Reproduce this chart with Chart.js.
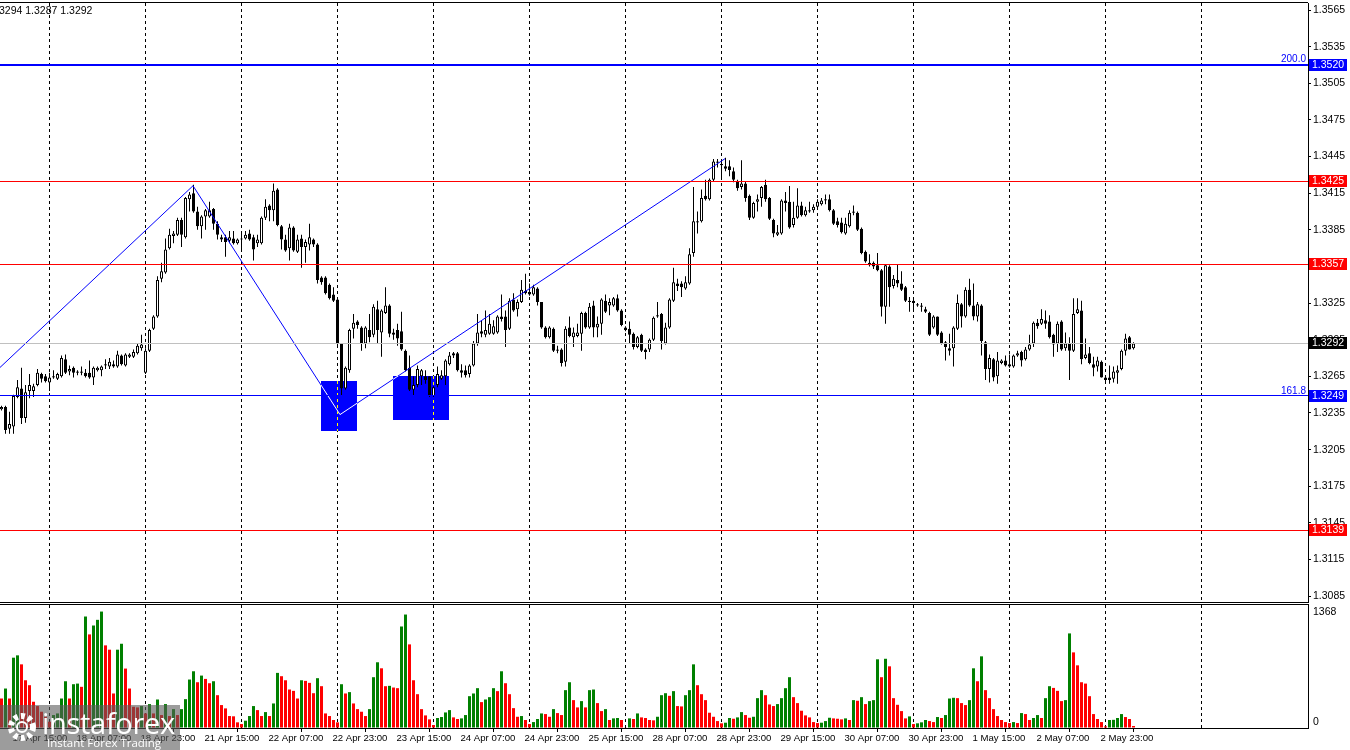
<!DOCTYPE html>
<html>
<head>
<meta charset="utf-8">
<title>GBPUSD H1</title>
<script src="https://cdn.jsdelivr.net/npm/chart.js@4.4.1/dist/chart.umd.min.js"></script>
<style>
  html, body { margin: 0; padding: 0; background: #fff; }
  #wrap { position: relative; width: 1350px; height: 750px; overflow: hidden; background: #fff;
          font-family: "Liberation Sans", Arial, sans-serif; }
  #priceChart { position: absolute; left: 0; top: 0; }
  #volChart { position: absolute; left: 0; top: 603px; }
  #hdr { position: absolute; left: -1px; top: 4px; font-size: 10.5px; line-height: 12px; color: #000; white-space: nowrap; }
  #logo { position: absolute; left: 0; top: 705px; width: 180px; height: 45px; background: rgba(90,90,90,0.6); color: #fff; }
  #logo svg { position: absolute; left: 5px; top: 5px; }
  #logo .big { position: absolute; left: 42px; top: 1px; font-family: "Open Sans", sans-serif; font-size: 29px; line-height: 34px; letter-spacing: -0.3px; }
  #logo .small { position: absolute; left: 47px; top: 31px; font-family: "Open Sans", sans-serif; font-size: 11.5px; line-height: 13px; }
</style>
</head>
<body>
<div id="wrap">
  <canvas id="priceChart" width="1350" height="604"></canvas>
  <canvas id="volChart" width="1350" height="147"></canvas>
  <div id="hdr">3294 1.3287 1.3292</div>
  <div id="logo">
    <svg width="34" height="34" viewBox="0 0 34 34">
      <circle cx="17" cy="17" r="11" fill="none" stroke="#fff" stroke-width="6" stroke-dasharray="4 3.2"/>
      <circle cx="17" cy="17" r="5" fill="none" stroke="#fff" stroke-width="2"/>
    </svg>
    <div class="big">instaforex</div>
    <div class="small">Instant Forex Trading</div>
  </div>
</div>
<script>
/* ---------- DATA (H1 bars, 17 Apr 12:00 .. 5 May 07:00) ---------- */
const opens = [
  1.3238,1.3240,1.3222,1.3224,1.3248,1.3255,1.3231,1.3253,1.3253,1.3258,
  1.3267,1.3265,1.3260,1.3264,1.3263,1.3265,1.3279,1.3269,1.3272,1.3268,
  1.3269,1.3268,1.3268,1.3264,1.3270,1.3270,1.3274,1.3273,1.3275,1.3273,
  1.3282,1.3274,1.3281,1.3281,1.3284,1.3288,1.3268,1.3286,1.3304,1.3314,
  1.3345,1.3350,1.3370,1.3380,1.3381,1.3393,1.3379,1.3410,1.3415,1.3400,
  1.3388,1.3396,1.3396,1.3402,1.3390,1.3379,1.3379,1.3376,1.3378,1.3374,
  1.3377,1.3378,1.3382,1.3379,1.3374,1.3374,1.3395,1.3405,1.3401,1.3418,
  1.3388,1.3377,1.3370,1.3387,1.3367,1.3378,1.3371,1.3373,1.3377,1.3373,
  1.3346,1.3346,1.3340,1.3332,1.3328,1.3292,1.3255,1.3270,1.3304,1.3310,
  1.3305,1.3292,1.3303,1.3299,1.3320,1.3301,1.3317,1.3323,1.3301,1.3303,
  1.3302,1.3286,1.3272,1.3254,1.3258,1.3265,1.3265,1.3265,1.3249,1.3258,
  1.3263,1.3265,1.3275,1.3284,1.3284,1.3270,1.3270,1.3267,1.3274,1.3292,
  1.3302,1.3299,1.3300,1.3300,1.3301,1.3314,1.3314,1.3304,1.3328,1.3320,
  1.3326,1.3335,1.3334,1.3332,1.3337,1.3326,1.3305,1.3297,1.3304,1.3287,
  1.3287,1.3277,1.3305,1.3297,1.3298,1.3300,1.3317,1.3305,1.3323,1.3305,
  1.3308,1.3327,1.3323,1.3323,1.3329,1.3319,1.3305,1.3304,1.3300,1.3289,
  1.3299,1.3287,1.3287,1.3295,1.3315,1.3316,1.3292,1.3305,1.3327,1.3341,
  1.3341,1.3337,1.3341,1.3366,1.3391,1.3392,1.3413,1.3410,1.3426,1.3441,
  1.3439,1.3437,1.3437,1.3433,1.3425,1.3420,1.3423,1.3413,1.3395,1.3408,
  1.3411,1.3422,1.3411,1.3393,1.3381,1.3382,1.3409,1.3408,1.3389,1.3395,
  1.3405,1.3397,1.3401,1.3401,1.3404,1.3406,1.3409,1.3410,1.3401,1.3392,
  1.3391,1.3382,1.3388,1.3399,1.3399,1.3386,1.3367,1.3358,1.3358,1.3356,
  1.3352,1.3322,1.3355,1.3339,1.3344,1.3341,1.3338,1.3327,1.3327,1.3324,
  1.3323,1.3320,1.3317,1.3305,1.3314,1.3301,1.3293,1.3288,1.3288,1.3304,
  1.3324,1.3314,1.3336,1.3323,1.3314,1.3323,1.3293,1.3271,1.3279,1.3265,
  1.3276,1.3278,1.3275,1.3273,1.3282,1.3285,1.3279,1.3287,1.3292,1.3309,
  1.3308,1.3311,1.3310,1.3299,1.3292,1.3310,1.3288,1.3292,1.3286,1.3317,
  1.3319,1.3280,1.3284,1.3275,1.3273,1.3277,1.3264,1.3264,1.3263,1.3268,
  1.3271,1.3286,1.3297,1.3288
];
const highs = [
  1.3241,1.3241,1.3236,1.3250,1.3262,1.3272,1.3258,1.3267,1.3259,1.3271,
  1.3268,1.3267,1.3268,1.3270,1.3268,1.3282,1.3283,1.3274,1.3273,1.3270,
  1.3273,1.3271,1.3278,1.3273,1.3273,1.3274,1.3279,1.3280,1.3278,1.3286,
  1.3283,1.3284,1.3284,1.3287,1.3292,1.3299,1.3288,1.3304,1.3315,1.3347,
  1.3358,1.3378,1.3386,1.3384,1.3395,1.3395,1.3412,1.3416,1.3422,1.3404,
  1.3397,1.3402,1.3408,1.3403,1.3392,1.3381,1.3381,1.3384,1.3384,1.3378,
  1.3384,1.3384,1.3385,1.3381,1.3381,1.3396,1.3410,1.3406,1.3423,1.3419,
  1.3389,1.3381,1.3390,1.3388,1.3381,1.3381,1.3377,1.3390,1.3378,1.3374,
  1.3347,1.3347,1.3341,1.3338,1.3329,1.3292,1.3273,1.3304,1.3316,1.3311,
  1.3306,1.3306,1.3316,1.3324,1.3327,1.3320,1.3338,1.3324,1.3304,1.3308,
  1.3318,1.3287,1.3282,1.3265,1.3274,1.3271,1.3270,1.3265,1.3257,1.3273,
  1.3270,1.3279,1.3285,1.3285,1.3285,1.3275,1.3274,1.3275,1.3294,1.3316,
  1.3311,1.3319,1.3316,1.3311,1.3315,1.3332,1.3319,1.3329,1.3333,1.3328,
  1.3344,1.3349,1.3341,1.3340,1.3338,1.3326,1.3306,1.3306,1.3305,1.3290,
  1.3288,1.3306,1.3314,1.3305,1.3308,1.3318,1.3318,1.3325,1.3327,1.3314,
  1.3329,1.3332,1.3329,1.3330,1.3332,1.3320,1.3306,1.3310,1.3301,1.3298,
  1.3300,1.3288,1.3296,1.3314,1.3326,1.3317,1.3309,1.3329,1.3354,1.3345,
  1.3343,1.3347,1.3370,1.3420,1.3400,1.3418,1.3426,1.3427,1.3443,1.3443,
  1.3441,1.3444,1.3442,1.3436,1.3426,1.3442,1.3425,1.3414,1.3408,1.3414,
  1.3421,1.3426,1.3412,1.3394,1.3389,1.3410,1.3416,1.3421,1.3408,1.3419,
  1.3408,1.3404,1.3408,1.3406,1.3410,1.3411,1.3414,1.3414,1.3402,1.3395,
  1.3395,1.3395,1.3401,1.3405,1.3400,1.3387,1.3368,1.3365,1.3359,1.3366,
  1.3353,1.3357,1.3356,1.3348,1.3357,1.3351,1.3339,1.3330,1.3329,1.3325,
  1.3325,1.3322,1.3318,1.3315,1.3314,1.3302,1.3294,1.3300,1.3306,1.3332,
  1.3325,1.3338,1.3345,1.3341,1.3326,1.3324,1.3294,1.3283,1.3280,1.3285,
  1.3279,1.3282,1.3283,1.3283,1.3286,1.3286,1.3289,1.3299,1.3310,1.3312,
  1.3320,1.3319,1.3315,1.3300,1.3310,1.3311,1.3301,1.3297,1.3329,1.3329,
  1.3327,1.3296,1.3289,1.3281,1.3281,1.3278,1.3265,1.3274,1.3273,1.3274,
  1.3287,1.3300,1.3298,1.3293
];
const lows = [
  1.3237,1.3218,1.3218,1.3218,1.3247,1.3226,1.3227,1.3247,1.3248,1.3257,
  1.3260,1.3260,1.3253,1.3263,1.3262,1.3264,1.3267,1.3266,1.3264,1.3266,
  1.3266,1.3264,1.3263,1.3258,1.3269,1.3265,1.3271,1.3271,1.3272,1.3272,
  1.3274,1.3273,1.3280,1.3280,1.3283,1.3286,1.3267,1.3285,1.3303,1.3313,
  1.3342,1.3349,1.3369,1.3374,1.3380,1.3371,1.3378,1.3400,1.3399,1.3385,
  1.3378,1.3385,1.3395,1.3385,1.3377,1.3375,1.3363,1.3374,1.3373,1.3373,
  1.3368,1.3377,1.3376,1.3360,1.3371,1.3373,1.3393,1.3392,1.3392,1.3388,
  1.3369,1.3367,1.3360,1.3367,1.3366,1.3354,1.3358,1.3368,1.3371,1.3341,
  1.3340,1.3332,1.3328,1.3326,1.3290,1.3249,1.3254,1.3268,1.3296,1.3304,
  1.3286,1.3288,1.3293,1.3297,1.3292,1.3281,1.3316,1.3297,1.3295,1.3290,
  1.3286,1.3269,1.3253,1.3249,1.3256,1.3258,1.3259,1.3248,1.3248,1.3256,
  1.3262,1.3258,1.3274,1.3280,1.3269,1.3264,1.3264,1.3264,1.3273,1.3290,
  1.3297,1.3297,1.3299,1.3299,1.3300,1.3310,1.3289,1.3303,1.3318,1.3314,
  1.3325,1.3332,1.3331,1.3331,1.3323,1.3304,1.3296,1.3296,1.3285,1.3284,
  1.3273,1.3273,1.3297,1.3289,1.3297,1.3286,1.3304,1.3304,1.3297,1.3297,
  1.3299,1.3317,1.3315,1.3322,1.3318,1.3306,1.3302,1.3292,1.3287,1.3288,
  1.3285,1.3279,1.3285,1.3294,1.3313,1.3287,1.3291,1.3304,1.3326,1.3335,
  1.3330,1.3336,1.3340,1.3363,1.3382,1.3391,1.3409,1.3409,1.3425,1.3436,
  1.3428,1.3433,1.3429,1.3424,1.3417,1.3418,1.3408,1.3393,1.3394,1.3400,
  1.3404,1.3408,1.3393,1.3379,1.3380,1.3381,1.3400,1.3386,1.3387,1.3394,
  1.3396,1.3396,1.3399,1.3399,1.3403,1.3405,1.3406,1.3400,1.3389,1.3387,
  1.3382,1.3381,1.3387,1.3397,1.3384,1.3365,1.3358,1.3355,1.3353,1.3351,
  1.3314,1.3308,1.3322,1.3337,1.3338,1.3335,1.3326,1.3318,1.3319,1.3322,
  1.3318,1.3317,1.3298,1.3304,1.3298,1.3291,1.3278,1.3282,1.3273,1.3303,
  1.3305,1.3313,1.3322,1.3311,1.3310,1.3282,1.3262,1.3260,1.3261,1.3259,
  1.3275,1.3273,1.3272,1.3272,1.3281,1.3273,1.3278,1.3286,1.3289,1.3304,
  1.3307,1.3304,1.3296,1.3281,1.3285,1.3286,1.3286,1.3262,1.3285,1.3316,
  1.3275,1.3279,1.3275,1.3265,1.3269,1.3264,1.3260,1.3259,1.3260,1.3259,
  1.3270,1.3282,1.3287,1.3287
];
const closes = [
  1.3240,1.3221,1.3226,1.3249,1.3256,1.3231,1.3252,1.3258,1.3257,1.3268,
  1.3263,1.3261,1.3264,1.3265,1.3267,1.3280,1.3268,1.3271,1.3268,1.3269,
  1.3268,1.3265,1.3264,1.3272,1.3272,1.3273,1.3275,1.3277,1.3273,1.3283,
  1.3275,1.3283,1.3283,1.3285,1.3290,1.3291,1.3286,1.3303,1.3314,1.3344,
  1.3351,1.3369,1.3381,1.3382,1.3393,1.3381,1.3411,1.3414,1.3400,1.3388,
  1.3396,1.3401,1.3401,1.3390,1.3381,1.3377,1.3375,1.3379,1.3374,1.3377,
  1.3378,1.3381,1.3377,1.3369,1.3377,1.3395,1.3404,1.3401,1.3417,1.3389,
  1.3377,1.3368,1.3387,1.3368,1.3377,1.3371,1.3375,1.3379,1.3373,1.3344,
  1.3342,1.3333,1.3329,1.3327,1.3292,1.3255,1.3272,1.3303,1.3309,1.3307,
  1.3292,1.3305,1.3297,1.3322,1.3303,1.3319,1.3323,1.3300,1.3299,1.3296,
  1.3287,1.3270,1.3254,1.3258,1.3271,1.3270,1.3262,1.3249,1.3256,1.3267,
  1.3266,1.3278,1.3282,1.3282,1.3270,1.3268,1.3266,1.3274,1.3292,1.3301,
  1.3300,1.3303,1.3308,1.3306,1.3314,1.3312,1.3303,1.3327,1.3319,1.3326,
  1.3336,1.3333,1.3332,1.3338,1.3326,1.3305,1.3297,1.3305,1.3286,1.3286,
  1.3276,1.3304,1.3298,1.3301,1.3301,1.3317,1.3305,1.3322,1.3305,1.3308,
  1.3328,1.3318,1.3326,1.3329,1.3319,1.3307,1.3303,1.3299,1.3289,1.3297,
  1.3286,1.3285,1.3295,1.3313,1.3314,1.3294,1.3305,1.3328,1.3342,1.3339,
  1.3338,1.3342,1.3365,1.3392,1.3392,1.3411,1.3410,1.3426,1.3441,1.3440,
  1.3438,1.3435,1.3434,1.3426,1.3419,1.3423,1.3411,1.3395,1.3407,1.3410,
  1.3420,1.3410,1.3394,1.3382,1.3383,1.3409,1.3407,1.3387,1.3395,1.3405,
  1.3397,1.3401,1.3400,1.3404,1.3408,1.3409,1.3410,1.3401,1.3390,1.3389,
  1.3383,1.3390,1.3399,1.3400,1.3385,1.3366,1.3359,1.3356,1.3355,1.3352,
  1.3322,1.3356,1.3338,1.3345,1.3341,1.3336,1.3327,1.3326,1.3325,1.3323,
  1.3322,1.3318,1.3299,1.3314,1.3299,1.3292,1.3289,1.3286,1.3305,1.3325,
  1.3314,1.3336,1.3323,1.3314,1.3324,1.3294,1.3271,1.3280,1.3264,1.3278,
  1.3278,1.3274,1.3273,1.3282,1.3284,1.3278,1.3287,1.3291,1.3309,1.3306,
  1.3312,1.3308,1.3297,1.3291,1.3308,1.3287,1.3292,1.3286,1.3316,1.3320,
  1.3279,1.3283,1.3276,1.3272,1.3278,1.3264,1.3262,1.3262,1.3269,1.3270,
  1.3286,1.3296,1.3287,1.3292
];
const volumes = [
  328,439,328,782,808,708,531,476,292,244,
  181,125,70,144,162,328,520,328,487,494,
  458,1240,1041,1140,1203,1295,919,871,384,871,
  937,661,439,236,229,244,162,266,162,317,
  144,266,133,210,144,210,321,539,631,509,
  583,546,498,520,365,255,218,133,130,63,
  44,81,133,244,199,133,177,133,273,613,
  576,531,428,413,328,531,524,502,387,554,
  465,162,133,89,63,487,384,399,273,210,
  181,133,210,565,731,664,465,469,450,443,
  1129,1262,930,531,376,210,140,96,33,111,
  122,173,199,118,100,107,144,354,384,443,
  288,317,343,443,410,631,498,376,221,125,
  133,89,44,66,100,162,155,125,210,166,
  144,421,509,310,229,299,229,421,428,277,
  188,210,89,107,111,89,7,107,100,162,
  118,111,89,85,125,365,387,358,410,244,
  240,365,421,708,476,376,310,170,125,77,
  52,59,111,103,118,177,144,114,125,332,
  421,365,262,244,266,332,443,565,343,277,
  192,140,118,66,55,59,77,114,107,103,
  96,107,89,310,303,343,266,299,310,764,
  565,770,686,332,258,188,107,129,44,52,
  63,89,77,66,122,111,144,328,336,332,
  277,255,310,664,520,797,421,332,210,133,
  89,66,55,66,55,166,155,89,111,144,
  111,332,465,446,413,299,310,1052,841,697,
  509,494,354,155,100,66,18,89,91,111,
  155,122,100,22
];

const priceTicks = [1.3565,1.3535,1.3505,1.3475,1.3445,1.3415,1.3385,1.3355,1.3325,
                    1.3295,1.3265,1.3235,1.3205,1.3175,1.3145,1.3115,1.3085];
const dayStarts = [12,36,60,84,108,132,156,180,204,228,252,276,300];
const timeTickIdx = [3,19,35,51,67,83,99,115,131,147,163,179,195,211,227,243,259,275];
const timeTickLabels = ['17 Apr 15:00','18 Apr 07:00','18 Apr 23:00','21 Apr 15:00','22 Apr 07:00',
  '22 Apr 23:00','23 Apr 15:00','24 Apr 07:00','24 Apr 23:00','25 Apr 15:00','28 Apr 07:00',
  '28 Apr 23:00','29 Apr 15:00','30 Apr 07:00','30 Apr 23:00','1 May 15:00','2 May 07:00','2 May 23:00'];

const levelValues = [1.3520, 1.3425, 1.3357, 1.3292, 1.3249, 1.3139];
const levelNames  = ['200.0', '', '', '', '161.8', ''];
const levelLine   = ['#0000ff', '#ff0000', '#ff0000', '#c0c0c0', '#0000ff', '#ff0000'];
const levelTag    = ['#0000ff', '#ff0000', '#ff0000', '#000000', '#0000ff', '#ff0000'];
const levelWidth  = [2, 1, 1, 1, 1, 1];

const zigzagIdx   = [-0.375, 47.875, 84.625, 180.875];
const zigzagPrice = [1.32723, 1.34211, 1.32337, 1.34433];

const boxFrom   = [79.875, 97.875];
const boxTo     = [88.875, 111.875];
const boxTop    = [1.32616, 1.32649];
const boxBottom = [1.32205, 1.32296];

const VOL_MAX = 1368;
const X_MIN = -0.375, X_MAX = 326.625;
const PRICE_MIN = 1.30802, PRICE_MAX = 1.35708;
const FONT = 'Liberation Sans';

/* ---------- HELPERS ---------- */
const crisp = v => Math.round(v - 0.5) + 0.5;

const bodyData = opens.map((o, i) => {
    let lo = Math.min(o, closes[i]), hi = Math.max(o, closes[i]);
    if (hi - lo < 0.00005) { lo -= 0.00003; hi += 0.00003; }
    return { x: i, y: [lo, hi] };
});
const bodyFill = opens.map((o, i) => closes[i] >= o ? '#ffffff' : '#000000');
const wickData = highs.map((h, i) => ({ x: i, y: [lows[i], h] }));
const volData  = volumes.map((v, i) => ({ x: i, y: v }));
const volColor = volumes.map((v, i) => (i > 0 && v > volumes[i - 1]) ? '#008000' : '#ff0000');

function drawDayLines(chart) {
    const { ctx, chartArea: a, scales: { x } } = chart;
    ctx.save();
    ctx.strokeStyle = '#000';
    ctx.lineWidth = 1;
    ctx.setLineDash([3, 3]);
    dayStarts.forEach(d => {
        const px = crisp(x.getPixelForValue(d));
        ctx.beginPath(); ctx.moveTo(px, a.top); ctx.lineTo(px, a.bottom); ctx.stroke();
    });
    ctx.restore();
}

function boxRect(chart, k) {
    const { x, y } = chart.scales;
    const x0 = Math.round(x.getPixelForValue(boxFrom[k])), x1 = Math.round(x.getPixelForValue(boxTo[k]));
    const y0 = Math.round(y.getPixelForValue(boxTop[k])), y1 = Math.round(y.getPixelForValue(boxBottom[k]));
    return { x0, x1, y0, y1 };
}

/* ---------- PRICE PANEL ---------- */
const pricePlugin = {
    id: 'pricePlugin',
    beforeDatasetsDraw(chart) {
        const { ctx, scales: { x } } = chart;
        drawDayLines(chart);
        ctx.save();
        boxFrom.forEach((_, k) => {
            const r = boxRect(chart, k);
            ctx.fillStyle = '#0000ff';
            ctx.fillRect(r.x0, r.y0, r.x1 - r.x0, r.y1 - r.y0);
            // grid line shows through the box in xor colour
            ctx.strokeStyle = '#ffff00';
            ctx.setLineDash([3, 3]);
            dayStarts.forEach(d => {
                const px = crisp(x.getPixelForValue(d));
                if (px > r.x0 && px < r.x1) {
                    ctx.beginPath(); ctx.moveTo(px, r.y0); ctx.lineTo(px, r.y1); ctx.stroke();
                }
            });
            ctx.setLineDash([]);
        });
        ctx.restore();
    },
    afterDatasetsDraw(chart) {
        const { ctx, chartArea: a, scales: { x, y } } = chart;
        ctx.save();
        // zigzag turns white where it crosses the blue boxes
        boxFrom.forEach((_, k) => {
            const r = boxRect(chart, k);
            ctx.save();
            ctx.beginPath(); ctx.rect(r.x0, r.y0, r.x1 - r.x0, r.y1 - r.y0); ctx.clip();
            ctx.strokeStyle = '#ffffff';
            ctx.lineWidth = 1;
            ctx.beginPath();
            zigzagIdx.forEach((v, j) => {
                const px = x.getPixelForValue(v), py = y.getPixelForValue(zigzagPrice[j]);
                j ? ctx.lineTo(px, py) : ctx.moveTo(px, py);
            });
            ctx.stroke();
            ctx.restore();
        });
        // horizontal levels
        levelValues.forEach((v, k) => {
            const py = y.getPixelForValue(v);
            ctx.fillStyle = levelLine[k];
            if (levelWidth[k] === 2) ctx.fillRect(a.left, Math.round(py) - 1, a.right - a.left, 2);
            else ctx.fillRect(a.left, Math.round(py - 0.5), a.right - a.left, 1);
            if (levelNames[k]) {
                ctx.font = '10px ' + FONT;
                ctx.fillStyle = levelTag[k];
                ctx.textAlign = 'right';
                ctx.textBaseline = 'bottom';
                ctx.fillText(levelNames[k], a.right - 2, Math.round(py) - (levelWidth[k] === 2 ? 1 : 0));
            }
        });
        // frame
        ctx.fillStyle = '#000';
        ctx.fillRect(0, a.top - 1, a.right, 1);
        ctx.fillRect(0, a.bottom, a.right + 1, 1);
        ctx.restore();
    },
    afterDraw(chart) {
        const { ctx, chartArea: a, scales: { y } } = chart;
        ctx.save();
        ctx.font = '10.5px ' + FONT;
        levelValues.forEach((v, k) => {
            const py = Math.round(y.getPixelForValue(v));
            ctx.fillStyle = levelTag[k];
            ctx.fillRect(a.right + 1, py - 6, 38, 12);
            ctx.fillStyle = '#ffffff';
            ctx.textAlign = 'left';
            ctx.textBaseline = 'middle';
            ctx.fillText(v.toFixed(4), a.right + 4, py + 0.5);
        });
        ctx.restore();
    }
};

new Chart(document.getElementById('priceChart'), {
    type: 'bar',
    data: {
        datasets: [
            {
                type: 'line',
                data: zigzagIdx.map((v, j) => ({ x: v, y: zigzagPrice[j] })),
                borderColor: '#0000ff', borderWidth: 1, pointRadius: 0, fill: false, order: 0
            },
            {
                data: bodyData, backgroundColor: bodyFill, borderColor: '#000000', borderWidth: 1,
                borderSkipped: false, barThickness: 3, grouped: false, inflateAmount: 0, order: 1
            },
            {
                data: wickData, backgroundColor: '#000000', borderWidth: 0,
                barThickness: 1, grouped: false, inflateAmount: 0, order: 2
            }
        ]
    },
    options: {
        responsive: false, animation: false, devicePixelRatio: 1, events: [],
        layout: { padding: { top: 3, bottom: 2, left: 0, right: 0 } },
        plugins: { legend: { display: false }, tooltip: { enabled: false } },
        scales: {
            x: {
                type: 'linear', min: X_MIN, max: X_MAX, offset: false,
                ticks: { display: false }, grid: { display: false }, border: { display: false },
                afterFit: ax => { ax.height = 0; }
            },
            y: {
                position: 'right', min: PRICE_MIN, max: PRICE_MAX,
                afterBuildTicks: ax => { ax.ticks = priceTicks.map(v => ({ value: v })); },
                afterFit: ax => { ax.width = 42; ax.paddingTop = 0; ax.paddingBottom = 0; },
                ticks: {
                    autoSkip: false, padding: 2, color: '#000',
                    font: { family: FONT, size: 10.5 },
                    callback: v => Number(v).toFixed(4)
                },
                grid: { drawOnChartArea: false, drawTicks: true, tickLength: 3, tickColor: '#000' },
                border: { color: '#000', width: 1 }
            }
        }
    },
    plugins: [pricePlugin]
});

/* ---------- VOLUME PANEL ---------- */
const volPlugin = {
    id: 'volPlugin',
    beforeDatasetsDraw(chart) { drawDayLines(chart); },
    afterDraw(chart) {
        const { ctx, chartArea: a } = chart;
        ctx.save();
        ctx.fillStyle = '#000';
        ctx.fillRect(0, a.top - 1, a.right + 1, 1);
        ctx.font = '10.5px ' + FONT;
        ctx.textAlign = 'left';
        ctx.textBaseline = 'middle';
        ctx.fillText(String(VOL_MAX), a.right + 5, a.top + 7);
        ctx.fillText('0', a.right + 5, a.bottom - 6);
        ctx.restore();
    }
};

new Chart(document.getElementById('volChart'), {
    type: 'bar',
    data: {
        datasets: [{
            data: volData, backgroundColor: volColor, borderWidth: 0,
            barThickness: 3, grouped: false, inflateAmount: 0
        }]
    },
    options: {
        responsive: false, animation: false, devicePixelRatio: 1, events: [],
        layout: { padding: { top: 2, bottom: 0, left: 0, right: 0 } },
        plugins: { legend: { display: false }, tooltip: { enabled: false } },
        scales: {
            x: {
                type: 'linear', min: X_MIN, max: X_MAX, offset: false,
                afterBuildTicks: ax => { ax.ticks = timeTickIdx.map(v => ({ value: v })); },
                afterFit: ax => { ax.height = 22; },
                ticks: {
                    autoSkip: false, maxRotation: 0, minRotation: 0, align: 'start',
                    labelOffset: -1, padding: 1, color: '#000',
                    font: { family: FONT, size: 9.6 },
                    callback: (v, idx) => timeTickLabels[idx]
                },
                grid: { drawOnChartArea: false, drawTicks: true, tickLength: 4, tickColor: '#000' },
                border: { color: '#000', width: 1 }
            },
            y: {
                position: 'right', min: 0, max: VOL_MAX,
                afterFit: ax => { ax.width = 42; ax.paddingTop = 0; ax.paddingBottom = 0; },
                ticks: { display: false },
                grid: { drawOnChartArea: false, drawTicks: false },
                border: { color: '#000', width: 1 }
            }
        }
    },
    plugins: [volPlugin]
});
</script>
</body>
</html>
